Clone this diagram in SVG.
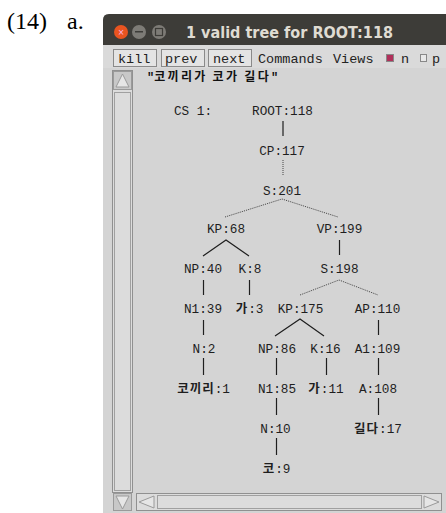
<svg xmlns="http://www.w3.org/2000/svg" width="446" height="513" viewBox="0 0 446 513">
<defs>
<style>
.mono{font-family:"Liberation Mono","DejaVu Sans Mono",monospace;font-size:12.7px;fill:#1e1e1e;text-anchor:middle}
.ko{font-family:"Noto Sans CJK KR",sans-serif;font-weight:bold;font-size:12.5px;letter-spacing:1px}
.tb{font-family:"Liberation Mono","DejaVu Sans Mono",monospace;font-size:13.5px;fill:#222}
.btn{fill:#e4e4e4;stroke:#8a8a8a;stroke-width:1}
.solid{stroke:#1e1e1e;stroke-width:1.2;fill:none}
.dot{stroke:#444;stroke-width:1;stroke-dasharray:1 1;fill:none}
</style>
</defs>
<rect width="446" height="513" fill="#ffffff"/>
<text x="7" y="29" font-family="Liberation Serif,serif" font-size="24" fill="#000">(14)</text>
<text x="67" y="29" font-family="Liberation Serif,serif" font-size="24" fill="#000">a.</text>
<g id="window">
<path d="M103 513 V20 Q103 14 109 14 H446 V513 Z" fill="#d4d4d4"/>
<path d="M103 45 V20 Q103 14 109 14 H446 V45 Z" fill="#3d3c38"/>
<circle cx="121" cy="32" r="7" fill="#e95420"/>
<text x="121" y="35" font-family="DejaVu Sans,sans-serif" font-size="8" fill="#fbe" text-anchor="middle">×</text>
<circle cx="139" cy="32" r="7" fill="#7d7b76"/>
<rect x="135" y="31" width="8" height="1.5" fill="#3d3c38"/>
<circle cx="159" cy="32" r="7" fill="#7d7b76"/>
<rect x="155.5" y="28.5" width="7" height="7" fill="none" stroke="#3d3c38" stroke-width="1.2"/>
<text x="186" y="38" font-family="DejaVu Sans,sans-serif" font-weight="bold" font-size="15" fill="#dfdbd2" textLength="207" lengthAdjust="spacingAndGlyphs">1 valid tree for ROOT:118</text>
<rect x="103" y="45" width="343" height="23" fill="#dadada"/>
<rect class="btn" x="113.5" y="49.5" width="43" height="17"/>
<text class="tb" x="118" y="63">kill</text>
<rect class="btn" x="161.5" y="49.5" width="43" height="17"/>
<text class="tb" x="165" y="63">prev</text>
<rect class="btn" x="208.5" y="49.5" width="43" height="17"/>
<text class="tb" x="213" y="63">next</text>
<text class="tb" x="258" y="63">Commands</text>
<text class="tb" x="333" y="63">Views</text>
<rect x="386.5" y="54.5" width="7" height="7" fill="#b0305a" stroke="#888"/>
<text class="tb" x="401" y="63">n</text>
<rect x="420.5" y="54.5" width="6" height="7" fill="#e8e8e8" stroke="#888"/>
<text class="tb" x="432" y="63">p</text>
<rect x="104" y="68" width="342" height="445" fill="#d4d4d4"/>
<rect x="112.5" y="70.5" width="20" height="422" fill="#dcdcdc" stroke="#909090"/>
<rect x="113.5" y="71.5" width="18" height="18" fill="#c8c8c8" stroke="#9a9a9a"/>
<path d="M116 87 L122.5 74 L129 87 Z" fill="#e6e6e6" stroke="#9a9a9a"/>
<rect x="114.5" y="92.5" width="16" height="398" fill="#dcdcdc" stroke="#a0a0a0"/>
<rect x="113.5" y="493.5" width="18" height="17" fill="#c8c8c8" stroke="#9a9a9a"/>
<path d="M116 496 L122.5 509 L129 496 Z" fill="#e6e6e6" stroke="#9a9a9a"/>
<rect x="136.5" y="493.5" width="305" height="17" fill="#dcdcdc" stroke="#909090"/>
<path d="M154 496 L139 502 L154 508 Z" fill="#e6e6e6" stroke="#9a9a9a"/>
<rect x="157.5" y="495.5" width="264" height="13" fill="#dcdcdc" stroke="#a0a0a0"/>
<path d="M424 496 L439 502 L424 508 Z" fill="#e6e6e6" stroke="#9a9a9a"/>
<text x="147" y="81" font-family="Liberation Mono,monospace" font-size="12" font-weight="bold" fill="#111">"<tspan font-family="Noto Sans CJK KR,sans-serif" font-weight="bold" font-size="12" letter-spacing="2.3">코끼리가 코가 길다</tspan>"</text>
</g>
<g id="connectors">
<line class="solid" x1="283" y1="121" x2="283" y2="136"/>
<line class="dot" x1="283" y1="160" x2="283" y2="176"/>
<polyline class="dot" points="225,217 282,199 338,217"/>
<polyline class="solid" points="203,256 226,240 249,256"/>
<line class="solid" x1="339.5" y1="240" x2="339.5" y2="255"/>
<line class="solid" x1="203.5" y1="280" x2="203.5" y2="295"/>
<line class="solid" x1="249.5" y1="280" x2="249.5" y2="295"/>
<polyline class="dot" points="300,295 339,280 378,295"/>
<line class="solid" x1="203.5" y1="320" x2="203.5" y2="335"/>
<polyline class="solid" points="275,336 300,319 324,336"/>
<line class="solid" x1="378.5" y1="320" x2="378.5" y2="335"/>
<line class="solid" x1="203.5" y1="358" x2="203.5" y2="375"/>
<line class="solid" x1="276.5" y1="358" x2="276.5" y2="375"/>
<line class="solid" x1="326.5" y1="358" x2="326.5" y2="375"/>
<line class="solid" x1="378.5" y1="358" x2="378.5" y2="375"/>
<line class="solid" x1="276.5" y1="398" x2="276.5" y2="415"/>
<line class="solid" x1="378.5" y1="398" x2="378.5" y2="415"/>
<line class="solid" x1="276.5" y1="438" x2="276.5" y2="455"/>
</g>
<g id="cs1"><text class="mono" x="193" y="115">CS 1:</text></g>
<g id="root118"><text class="mono" x="282.5" y="115">ROOT:118</text></g>
<g id="cp117"><text class="mono" x="282" y="155">CP:117</text></g>
<g id="s201"><text class="mono" x="282" y="195">S:201</text></g>
<g id="kp68"><text class="mono" x="226" y="233">KP:68</text></g>
<g id="vp199"><text class="mono" x="339.5" y="233">VP:199</text></g>
<g id="np40"><text class="mono" x="203" y="273">NP:40</text></g>
<g id="k8"><text class="mono" x="250" y="273">K:8</text></g>
<g id="s198"><text class="mono" x="339.5" y="273">S:198</text></g>
<g id="n139"><text class="mono" x="203" y="313">N1:39</text></g>
<g id="ga3"><text class="mono" x="249.5" y="313"><tspan class="ko">가</tspan>:3</text></g>
<g id="kp175"><text class="mono" x="300.5" y="313">KP:175</text></g>
<g id="ap110"><text class="mono" x="377.5" y="313">AP:110</text></g>
<g id="n2"><text class="mono" x="204" y="353">N:2</text></g>
<g id="np86"><text class="mono" x="277" y="353">NP:86</text></g>
<g id="k16"><text class="mono" x="325.5" y="353">K:16</text></g>
<g id="a1109"><text class="mono" x="377.5" y="353">A1:109</text></g>
<g id="kokkiri1"><text class="mono" x="203.5" y="393"><tspan class="ko">코끼리</tspan>:1</text></g>
<g id="n185"><text class="mono" x="277" y="393">N1:85</text></g>
<g id="ga11"><text class="mono" x="326" y="393"><tspan class="ko">가</tspan>:11</text></g>
<g id="a108"><text class="mono" x="378" y="393">A:108</text></g>
<g id="n10"><text class="mono" x="275.5" y="433">N:10</text></g>
<g id="gilda17"><text class="mono" x="378" y="433"><tspan class="ko">길다</tspan>:17</text></g>
<g id="ko9"><text class="mono" x="276.5" y="473"><tspan class="ko">코</tspan>:9</text></g>
</svg>
